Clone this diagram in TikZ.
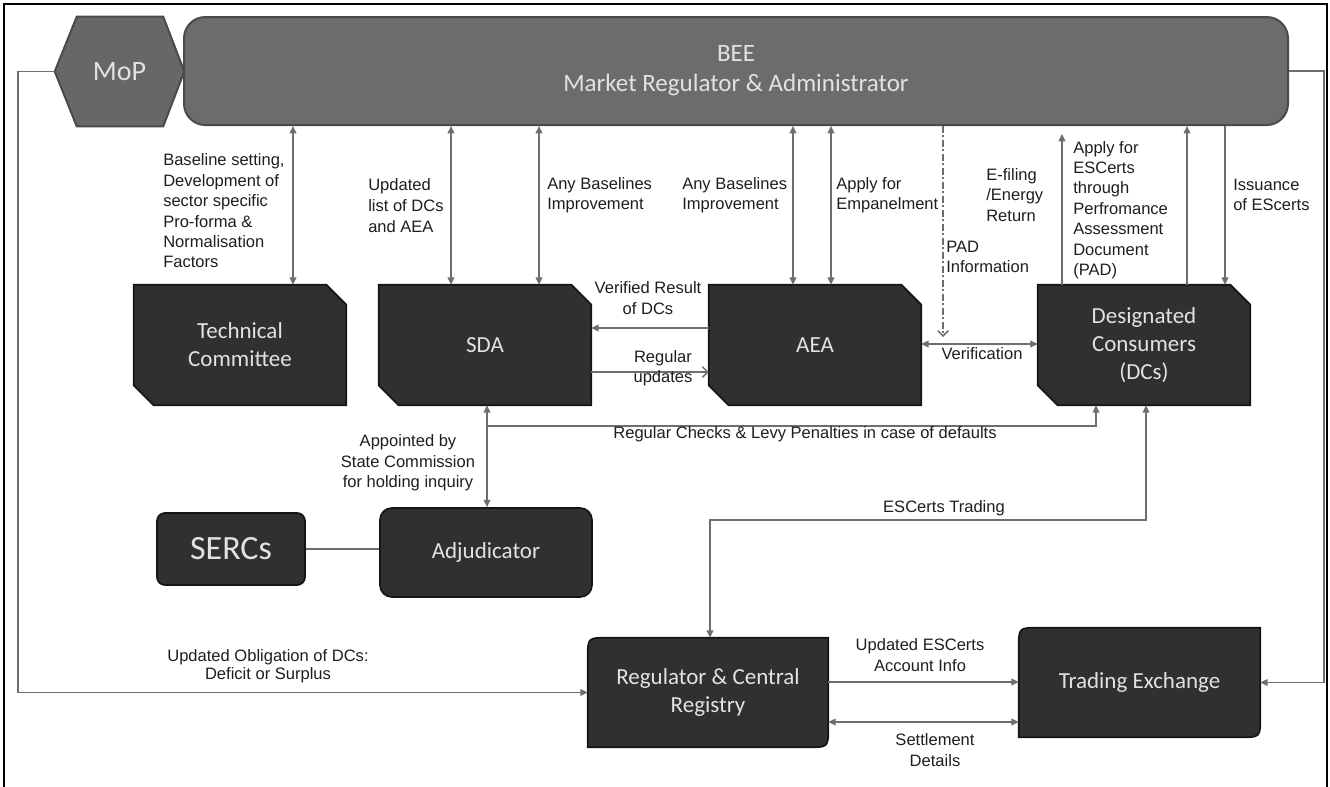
\documentclass[tikz,border=0pt]{standalone}
\usepackage{fontspec}
\setmainfont{Liberation Sans}
\newfontfamily\calfont{Carlito}
\usetikzlibrary{arrows.meta,backgrounds,calc}
\definecolor{linegray}{HTML}{6E6E6E}
\definecolor{darkfillc}{HTML}{303030}
\definecolor{darklinec}{HTML}{151515}
\definecolor{beefill}{HTML}{6C6C6C}
\definecolor{beeline}{HTML}{4A4A4A}
\definecolor{boxtext}{HTML}{E2E2E2}
\definecolor{lbltext}{HTML}{1E1E1E}
\begin{document}
\begin{tikzpicture}[x=0.75pt,y=-0.75pt,
  lbl/.style={font=\fontsize{12.4}{15.3}\selectfont, text=lbltext, inner sep=0pt},
  conn/.style={draw=linegray, line width=1.1pt},
  arr/.style={-{Triangle[length=5.5pt,width=5pt]}},
  darr/.style={{Triangle[length=5.5pt,width=5pt]}-{Triangle[length=5.5pt,width=5pt]}},
  openarr/.style={-{Straight Barb[length=4pt,width=8pt]}},
  padline/.style={dash pattern=on 5pt off 2pt on 1.5pt off 2pt},
  boxfont/.style={font=\calfont\fontsize{17.25}{21}\selectfont, text=boxtext, align=center, inner sep=0pt},
  chbox/.style={boxfont, minimum width=159pt, minimum height=90pt},
  rbox/.style={boxfont, fill=darkfillc, draw=darklinec, line width=1.3pt},
  regbox/.style={boxfont, minimum width=180pt, minimum height=81.75pt},
  darkshape/.style={fill=darkfillc, draw=darklinec, line width=1.3pt}
]
\useasboundingbox (0,0) rectangle (1330,786);

% ---------- main nodes ----------
\node[boxfont, font=\calfont\fontsize{18.75}{22.5}\selectfont, fill=beefill, draw=beeline, line width=1.5pt,
      rounded corners=16pt, minimum width=828pt, minimum height=81pt] (bee) at (736,71)
      {BEE\\Market Regulator \& Administrator};
\node[boxfont, font=\calfont\fontsize{21}{25}\selectfont, minimum width=96.75pt, minimum height=81.75pt] (mop) at (119.5,71.5) {MoP};
\node[chbox] (tc) at (240,345) {Technical\\Committee};
\node[chbox] (sda) at (485,345) {SDA};
\node[chbox] (aea) at (815,345) {AEA};
\node[chbox] (dc) at (1144,345) {Designated\\Consumers\\(DCs)};
\node[rbox, font=\calfont\fontsize{25.5}{30}\selectfont, minimum width=111pt, minimum height=54pt, rounded corners=6pt] (serc) at (231,549) {SERCs};
\node[rbox, minimum width=159pt, minimum height=66.75pt, rounded corners=9pt] (adj) at (486,552.5) {Adjudicator};
\node[regbox] (reg) at (708,692.5) {Regulator \& Central\\Registry};
\node[regbox, minimum width=180.75pt] (te) at (1139.5,682.5) {Trading Exchange};

% ---------- shapes behind the nodes ----------
\begin{scope}[on background layer]
  \draw[black, line width=1.2pt] (4,790) -- (4,4) -- (1327,4) -- (1327,790);
  \foreach \n in {tc,sda,aea,dc} {
    \filldraw[darkshape] (\n.north west) -- ([xshift=-15pt]\n.north east) -- ([yshift=-15pt]\n.north east)
      -- (\n.south east) -- ([xshift=15pt]\n.south west) -- ([yshift=15pt]\n.south west) -- cycle;
  }
  \foreach \n in {reg,te} {
    \filldraw[darkshape] (\n.south west) -- ([yshift=-15pt]\n.north west) .. controls (\n.north west) .. ([xshift=15pt]\n.north west)
      -- (\n.north east) -- ([yshift=15pt]\n.south east) .. controls (\n.south east) .. ([xshift=-15pt]\n.south east) -- cycle;
  }
  \filldraw[fill=beefill!95!black, draw=beeline, line width=1.5pt] (mop.west) -- ([xshift=16.5pt]mop.north west) -- ([xshift=-15.75pt]mop.north east)
      -- (mop.east) -- ([xshift=-15.75pt]mop.south east) -- ([xshift=16.5pt]mop.south west) -- cycle;
\end{scope}

% ---------- helper coordinates ----------
\coordinate (k293) at (293,0);
\coordinate (k451) at (451,0);
\coordinate (k539) at (539,0);
\coordinate (k793) at (793,0);
\coordinate (k831) at (831,0);
\coordinate (k943) at (943,0);
\coordinate (k1062) at (1062,0);
\coordinate (k1187) at (1187,0);
\coordinate (k1225) at (1225,0);
\coordinate (k487) at (487,0);
\coordinate (k1096) at (1096,0);
\coordinate (k1146) at (1146,0);
\coordinate (r328) at (0,328);
\coordinate (r344) at (0,344);
\coordinate (r372) at (0,372);
\coordinate (r682) at (0,682);
\coordinate (r722) at (0,722);
\coordinate (padend) at (943,337);
\coordinate (chk) at (487,426);
\coordinate (trd) at (710,520);
\coordinate (lft) at (18,400);
\coordinate (rgt) at (1324,400);

% ---------- connectors ----------
\draw[conn,darr] (bee.south -| k293) -- (tc.north -| k293);
\draw[conn,darr] (bee.south -| k451) -- (sda.north -| k451);
\draw[conn,darr] (bee.south -| k539) -- (sda.north -| k539);
\draw[conn,darr] (bee.south -| k793) -- (aea.north -| k793);
\draw[conn,darr] (bee.south -| k831) -- (aea.north -| k831);
\draw[conn,padline,openarr] (bee.south -| k943) -- (padend);
\draw[conn,arr,shorten >=6pt] (dc.north -| k1062) -- (bee.south -| k1062);
\draw[conn,arr] (dc.north -| k1187) -- (bee.south -| k1187);
\draw[conn,arr] (bee.south -| k1225) -- (dc.north -| k1225);
\draw[conn,arr] (aea.west |- r328) -- (sda.east |- r328);
\draw[conn,openarr] (sda.east |- r372) -- (aea.west |- r372);
\draw[conn,darr] (aea.east |- r344) -- (dc.west |- r344);
\draw[conn,darr] (sda.south -| k487) -- (adj.north -| k487);
\draw[conn,arr] (chk) -| (dc.south -| k1096);
\draw[conn] (serc.east) -- (adj.west |- serc.east);
\draw[conn,darr] (dc.south -| k1146) |- (trd) -- (reg.north -| trd);
\draw[conn,arr] (mop.west) -| (lft) |- (reg.west);
\draw[conn,arr] (bee.east) -| (rgt) |- (te.east);
\draw[conn,arr] (reg.east |- r682) -- (te.west |- r682);
\draw[conn,darr] (reg.east |- r722) -- (te.west |- r722);

% ---------- labels ----------
\node[lbl, anchor=west, align=left] (l1) at (163,211) {Baseline setting,\\Development of\\sector specific\\Pro-forma \&\\Normalisation\\Factors};
\node[lbl, anchor=west, align=left, font=\fontsize{12.4}{15.75}\selectfont] (l2) at (368,206) {Updated\\list of DCs\\and AEA};
\node[lbl, anchor=west, align=left] (l3) at (547,195) {Any Baselines\\Improvement};
\node[lbl, anchor=west, align=left] (l4) at (682,195) {Any Baselines\\Improvement};
\node[lbl, anchor=west, align=left] (l5) at (836,195) {Apply for\\Empanelment};
\node[lbl, anchor=west, align=left] (l6) at (946,257) {PAD\\Information};
\node[lbl, anchor=west, align=left] (l7) at (986,195) {E-filing\\/Energy\\Return};
\node[lbl, anchor=west, align=left] (l8) at (1073,210) {Apply for\\ESCerts\\through\\Perfromance\\Assessment\\Document\\(PAD)};
\node[lbl, anchor=west, align=left] (l9) at (1233,195) {Issuance\\of EScerts};
\node[lbl, align=center] (l10) at (648,298) {Verified Result\\of DCs};
\node[lbl, align=center] (l11) at (663,368) {Regular\\updates};
\node[lbl] (l12) at (982,354) {Verification};
\node[lbl] (l13) at (805,434) {Regular Checks \& Levy Penalties in case of defaults};
\node[lbl, align=center] (l14) at (408,463) {Appointed by\\State Commission\\for holding inquiry};
\node[lbl] (l15) at (944,508) {ESCerts Trading};
\node[lbl, align=center, font=\fontsize{12.4}{13.5}\selectfont] (l16) at (268,666) {Updated Obligation of DCs:\\Deficit or Surplus};
\node[lbl, align=center] (l17) at (920,655) {Updated ESCerts\\Account Info};
\node[lbl, align=center] (l18) at (935,750) {Settlement\\Details};
\end{tikzpicture}
\end{document}
